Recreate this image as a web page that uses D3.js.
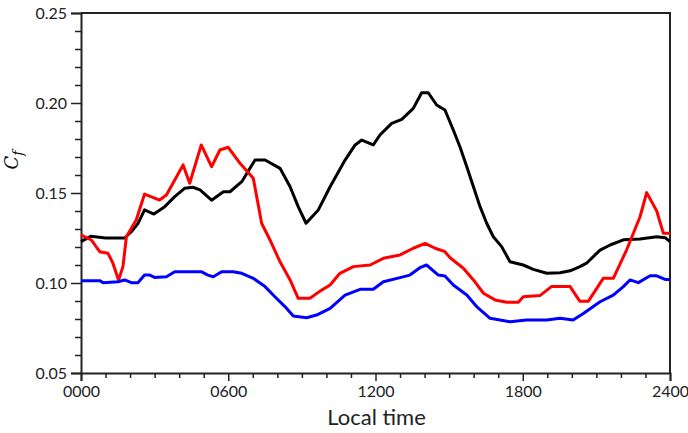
<!DOCTYPE html>
<html>
<head>
<meta charset="utf-8">
<script src="https://cdn.jsdelivr.net/npm/d3@7"></script>
<style>
  body { margin: 0; background: #fff; }
  svg { display: block; }
  .tick text { font-family: Lato, "Open Sans", sans-serif; font-size: 16px; fill: #222; }
</style>
</head>
<body>
<svg id="chart" width="688" height="433"></svg>
<script>
// ---- Data ----
const xTickLabels = ["0000", "0600", "1200", "1800", "2400"];
const xTickValues = [0, 600, 1200, 1800, 2400];
const yTickValues = [0.05, 0.10, 0.15, 0.20, 0.25];

const blackTime = [0, 40, 100, 178, 205, 232, 259, 297, 341, 382, 422, 456, 485, 532, 580, 607, 655, 709, 750, 811, 852, 885, 917, 967, 1015, 1076, 1117, 1144, 1191, 1218, 1266, 1307, 1354, 1388, 1415, 1449, 1483, 1517, 1544, 1572, 1599, 1626, 1653, 1680, 1714, 1748, 1802, 1843, 1898, 1952, 1993, 2033, 2060, 2115, 2156, 2210, 2278, 2346, 2380, 2400];
const blackCf = [0.123, 0.126, 0.125, 0.125, 0.1285, 0.133, 0.1406, 0.1383, 0.1424, 0.148, 0.1526, 0.1532, 0.1517, 0.146, 0.1507, 0.1507, 0.1563, 0.1683, 0.1683, 0.1637, 0.1535, 0.1424, 0.1332, 0.1406, 0.1535, 0.1683, 0.1767, 0.1794, 0.1767, 0.1822, 0.1887, 0.1909, 0.197, 0.2057, 0.2057, 0.1989, 0.1961, 0.185, 0.1757, 0.1646, 0.1535, 0.1424, 0.1332, 0.1257, 0.1202, 0.1118, 0.110, 0.1076, 0.1054, 0.1057, 0.1068, 0.1091, 0.111, 0.1183, 0.1211, 0.124, 0.1244, 0.1257, 0.1252, 0.123];

const redTime = [0, 42, 76, 110, 130, 153, 171, 185, 225, 259, 320, 348, 416, 443, 490, 532, 566, 600, 648, 702, 716, 736, 770, 811, 852, 885, 933, 974, 1015, 1055, 1110, 1178, 1232, 1300, 1354, 1402, 1443, 1483, 1504, 1558, 1599, 1640, 1687, 1735, 1782, 1802, 1870, 1917, 1993, 2033, 2067, 2128, 2169, 2223, 2278, 2305, 2346, 2373, 2400];
const redCf = [0.1267, 0.1239, 0.1174, 0.1165, 0.111, 0.1017, 0.1091, 0.1257, 0.135, 0.1494, 0.1461, 0.1489, 0.1656, 0.1554, 0.1767, 0.1646, 0.1739, 0.1754, 0.1665, 0.1582, 0.148, 0.1332, 0.1239, 0.1118, 0.1017, 0.0915, 0.0915, 0.0955, 0.0989, 0.1054, 0.1091, 0.110, 0.1137, 0.1156, 0.1193, 0.122, 0.1193, 0.1174, 0.114, 0.1082, 0.1017, 0.0943, 0.0906, 0.0893, 0.0893, 0.0924, 0.093, 0.098, 0.098, 0.0898, 0.0898, 0.1026, 0.1026, 0.1183, 0.1368, 0.1502, 0.140, 0.1276, 0.1276];

const blueTime = [0, 76, 90, 151, 178, 205, 232, 259, 280, 300, 348, 382, 490, 517, 539, 573, 620, 655, 702, 750, 790, 831, 865, 919, 960, 1015, 1076, 1137, 1191, 1232, 1300, 1340, 1381, 1408, 1456, 1483, 1517, 1572, 1612, 1667, 1748, 1816, 1898, 1952, 2005, 2047, 2115, 2169, 2210, 2237, 2271, 2319, 2346, 2380, 2400];
const blueCf = [0.1013, 0.1013, 0.1002, 0.1007, 0.1017, 0.1002, 0.1002, 0.1044, 0.1044, 0.1031, 0.1035, 0.1063, 0.1063, 0.1044, 0.1035, 0.1063, 0.1063, 0.1054, 0.1026, 0.098, 0.0924, 0.0869, 0.0817, 0.0807, 0.0822, 0.0859, 0.0933, 0.0965, 0.0965, 0.1007, 0.103, 0.1044, 0.1085, 0.110, 0.1044, 0.1039, 0.0989, 0.0933, 0.0869, 0.0804, 0.0785, 0.0794, 0.0794, 0.0804, 0.0794, 0.0831, 0.0896, 0.0933, 0.098, 0.1017, 0.1002, 0.104, 0.104, 0.102, 0.102];

const series = [
  { time: blackTime, values: blackCf, color: "#000000" },
  { time: redTime, values: redCf, color: "#ff0000" },
  { time: blueTime, values: blueCf, color: "#0000ff" }
];

// ---- Layout ----
const mLeft = 81, mRight = 670, mTop = 13, mBottom = 373;
const svg = d3.select("#chart");

const x = d3.scaleLinear().domain([0, 2400]).range([mLeft, mRight]);
const y = d3.scaleLinear().domain([0.05, 0.25]).range([mBottom, mTop]);

// frame (top & right)
svg.append("path")
  .attr("d", `M${mLeft},${mTop}H${mRight}V${mBottom}`)
  .attr("fill", "none").attr("stroke", "#222").attr("stroke-width", 2);

// minor ticks
const yMinor = d3.range(5, 26).map(d => d / 100).filter(d => !yTickValues.some(v => Math.abs(v - d) < 1e-9));
const xMinor = d3.range(0, 2401, 100).filter(d => d % 600 !== 0);

svg.append("g")
  .attr("transform", `translate(${mLeft},0)`)
  .call(d3.axisLeft(y).tickValues(yMinor).tickSize(6).tickFormat(""))
  .call(g => g.select(".domain").remove())
  .call(g => g.selectAll("line").attr("stroke", "#222").attr("stroke-width", 1.5));

svg.append("g")
  .attr("transform", `translate(0,${mBottom})`)
  .call(d3.axisBottom(x).tickValues(xMinor).tickSize(5).tickFormat(""))
  .call(g => g.select(".domain").remove())
  .call(g => g.selectAll("line").attr("stroke", "#222").attr("stroke-width", 1.5));

// major axes
svg.append("g")
  .attr("transform", `translate(${mLeft},0)`)
  .call(d3.axisLeft(y).tickValues(yTickValues).tickSize(10).tickPadding(4).tickFormat(d3.format(".2f")))
  .call(g => g.select(".domain").attr("stroke", "#222").attr("stroke-width", 2))
  .call(g => g.selectAll("line").attr("stroke", "#222").attr("stroke-width", 1.5));

svg.append("g")
  .attr("transform", `translate(0,${mBottom})`)
  .call(d3.axisBottom(x).tickValues(xTickValues).tickSize(8).tickPadding(5)
    .tickFormat((d, i) => xTickLabels[i]))
  .call(g => g.select(".domain").attr("stroke", "#222").attr("stroke-width", 2))
  .call(g => g.selectAll("line").attr("stroke", "#222").attr("stroke-width", 1.5));

// lines
const line = d3.line().x(d => x(d[0])).y(d => y(d[1]));
series.forEach(s => {
  const pts = s.time.map((t, i) => [t, s.values[i]]);
  svg.append("path")
    .datum(pts)
    .attr("d", line)
    .attr("fill", "none")
    .attr("stroke", s.color)
    .attr("stroke-width", 3)
    .attr("stroke-linejoin", "round");
});

// axis titles
svg.append("text")
  .attr("x", (mLeft + mRight) / 2 + 1)
  .attr("y", 425)
  .attr("text-anchor", "middle")
  .style("font-family", "Lato, 'Open Sans', sans-serif")
  .style("font-size", "22px")
  .attr("fill", "#222")
  .text("Local time");

const yt = svg.append("text")
  .attr("transform", "translate(18,160) rotate(-90)")
  .attr("text-anchor", "middle")
  .style("font-family", "'DejaVu Serif', 'Liberation Serif', serif")
  .style("font-style", "italic")
  .attr("fill", "#111");
yt.append("tspan").style("font-size", "18px").text("C");
yt.append("tspan").style("font-size", "14px").attr("dy", 5).text("f");
</script>
</body>
</html>
